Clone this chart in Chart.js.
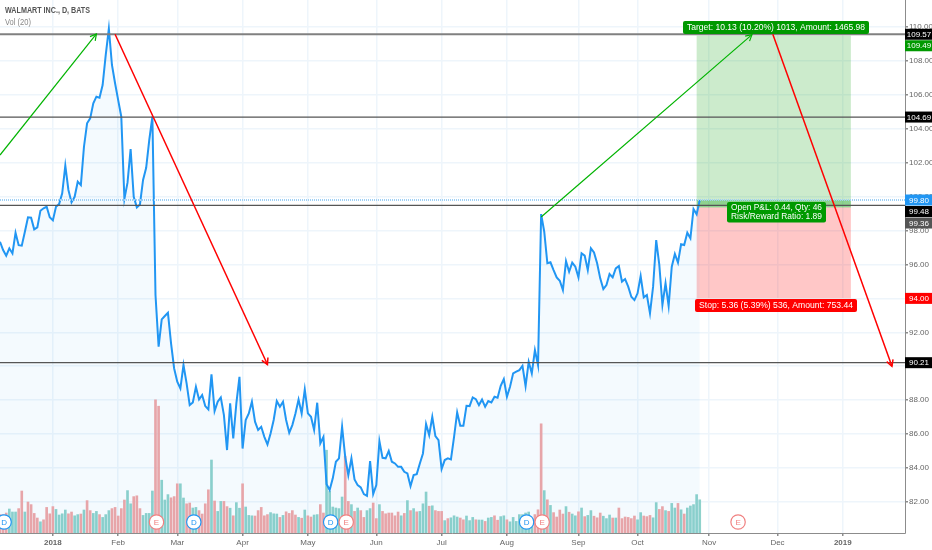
<!DOCTYPE html>
<html>
<head>
<meta charset="utf-8">
<title>WALMART INC., D, BATS</title>
<script src="https://cdn.jsdelivr.net/npm/chart.js@4/dist/chart.umd.js"></script>
<style>
    html, body { margin: 0; padding: 0; background: #fff; }
    canvas { display: block; }
</style>
</head>
<body>
<canvas id="chart" width="932" height="550"></canvas>
<script>
// closing prices, one per trading day
const closes = [
    97.34, 96.85, 96.52, 96.95, 96.65, 97.87, 97.14, 97.11, 97.93, 98.78,
    98.76, 98.07, 98.19, 99.17, 99.31, 99.40, 98.78, 98.60, 99.40, 99.56,
    100.19, 101.82, 100.39, 99.66, 99.99, 100.88, 100.68, 102.94, 104.32, 104.61,
    105.50, 105.89, 105.83, 106.58, 108.35, 109.90, 107.76, 106.68, 105.69, 104.71,
    99.86, 100.82, 102.80, 99.99, 99.37, 99.54, 100.98, 101.70, 103.34, 104.71,
    94.20, 91.15, 92.76, 92.96, 93.15, 91.35, 89.87, 89.09, 88.69, 90.07,
    88.99, 87.71, 87.87, 88.79, 88.04, 88.30, 87.65, 87.45, 89.52, 87.36,
    87.91, 88.16, 87.12, 85.06, 87.81, 85.74, 87.81, 89.38, 85.15, 86.83,
    87.22, 87.91, 86.73, 86.24, 86.43, 85.84, 85.39, 86.04, 86.83, 87.95,
    87.61, 87.91, 86.83, 86.08, 86.53, 87.22, 88.04, 87.22, 88.63, 87.22,
    87.02, 86.24, 87.85, 85.45, 85.84, 83.05, 82.70, 83.39, 84.37, 84.57,
    86.43, 84.66, 83.58, 84.57, 83.33, 82.99, 82.86, 82.46, 82.36, 84.41,
    82.46, 82.99, 85.59, 84.60, 84.57, 85.00, 84.37, 84.27, 84.07, 84.07,
    83.78, 83.68, 82.93, 83.58, 83.64, 84.27, 84.86, 86.59, 85.94, 87.02,
    85.88, 85.65, 83.94, 84.47, 84.57, 84.51, 85.84, 87.28, 86.49, 86.49,
    87.67, 87.65, 88.16, 88.06, 87.71, 88.04, 87.61, 87.95, 87.87, 88.20,
    88.14, 88.85, 89.24, 88.20, 88.79, 89.58, 89.68, 89.77, 90.03, 88.83,
    90.26, 89.58, 90.95, 90.07, 98.97, 97.93, 96.07, 96.13, 95.67, 95.24,
    95.04, 94.49, 96.20, 95.57, 96.11, 95.87, 95.24, 96.66, 96.52, 95.67,
    96.95, 96.71, 96.07, 95.18, 94.55, 94.79, 95.44, 95.24, 95.77, 95.91,
    94.99, 95.14, 94.69, 94.10, 93.90, 94.30, 95.32, 94.06, 94.20, 93.12,
    94.69, 97.44, 95.97, 93.61, 94.89, 93.55, 95.87, 96.62, 96.11, 97.19,
    97.15, 97.87, 97.54, 99.27, 98.96, 99.80
]

// daily volume in millions
const volumes = [
    4.6, 4.6, 5.0, 6.0, 5.25, 5.25, 6.1, 10.5, 5.25, 7.75,
    7.1, 4.9, 3.75, 2.8, 3.3, 6.4, 4.8, 6.6, 5.9, 4.5,
    4.8, 5.75, 4.8, 5.25, 4.3, 4.6, 4.75, 5.75, 8.1, 5.6,
    4.9, 5.4, 4.6, 3.9, 4.6, 5.6, 6.1, 6.4, 4.25, 6.1,
    8.25, 10.6, 7.3, 9.1, 9.3, 6.1, 4.4, 4.9, 4.9, 10.5,
    33.3, 31.7, 13.2, 8.25, 9.6, 8.8, 9.1, 12.3, 12.3, 8.75,
    7.3, 7.5, 6.25, 6.4, 5.6, 4.75, 7.3, 10.8, 18.25, 8.0,
    5.4, 7.9, 7.9, 6.6, 6.2, 4.3, 7.6, 6.2, 12.3, 6.5,
    4.4, 4.3, 4.25, 5.6, 6.4, 4.3, 4.6, 5.1, 4.8, 4.75,
    3.9, 4.4, 5.3, 4.9, 5.6, 4.5, 3.9, 3.7, 5.75, 4.3,
    4.0, 4.5, 4.6, 7.1, 5.0, 20.7, 10.4, 6.5, 6.25, 6.1,
    9.0, 19.2, 7.9, 7.1, 5.4, 6.25, 5.6, 3.9, 5.6, 6.1,
    7.5, 3.6, 7.1, 5.4, 4.8, 5.0, 5.0, 4.3, 5.25, 4.3,
    4.9, 8.1, 5.6, 6.1, 5.3, 5.4, 7.3, 10.25, 6.7, 6.8,
    5.6, 5.4, 5.4, 3.1, 3.6, 3.8, 4.3, 4.0, 3.75, 3.3,
    4.25, 3.1, 3.9, 3.3, 3.25, 3.25, 2.9, 3.75, 3.9, 4.3,
    3.2, 4.1, 4.3, 3.3, 2.8, 3.9, 2.9, 4.6, 4.6, 5.0,
    5.25, 3.3, 4.6, 5.8, 27.3, 10.6, 8.3, 6.9, 5.1, 4.0,
    5.75, 4.75, 6.6, 5.2, 4.75, 4.3, 5.3, 6.25, 4.1, 4.4,
    5.6, 4.2, 3.8, 5.0, 4.2, 3.6, 4.5, 3.75, 3.75, 6.25,
    3.6, 4.0, 3.9, 3.6, 4.25, 3.3, 5.1, 4.25, 4.1, 4.4,
    3.8, 7.6, 5.9, 6.6, 5.6, 5.4, 7.4, 6.25, 7.4, 5.8,
    4.75, 6.25, 6.75, 7.1, 9.6, 8.3
]

// g = up day, r = down day
const volumeDirs = (
    'rrrgggrrgr' + 'rrrgrrrrgg' + 'ggrrggrgrr' + 'ggrgggrrrr' + 'rggrrrgggg' +
    'rrgggrrrgg' + 'rrggrrrrgr' + 'ggrrgrggrg' + 'ggrrrrrggg' + 'rgrrrrgrgr' +
    'rggrrggggg' + 'grrgrgrrgg' + 'rrgrrrrrrg' + 'rgrgrgggrg' + 'rrrgrgggrr' +
    'gggrggrggr' + 'rggrgggggg' + 'ggrrrgrgrr' + 'rrgrggrgrg' + 'grrrgggrgr' +
    'rrrrrggrrr' + 'ggrrgrggrg' + 'rggggg'
).split('')

const monthTicks = [17, 38, 57, 78, 99, 121, 142, 163, 186, 205, 228, 250, 271]
const monthLabels = ['2018', 'Feb', 'Mar', 'Apr', 'May', 'Jun', 'Jul', 'Aug', 'Sep', 'Oct', 'Nov', 'Dec', '2019']
const priceTicks = [82, 84, 86, 88, 90, 92, 94, 96, 98, 100, 102, 104, 106, 108, 110]

const levels = [109.57, 104.69, 99.48, 90.21]
const lastPrice = 99.80
const greenArrows = [
    [[0, 102.45], [31, 109.59]],
    [[174, 98.80], [241.8, 109.55]]
]
const redArrows = [
    [[37, 109.57], [86, 90.10]],
    [[248.5, 109.57], [286.8, 90.00]]
]

// long position drawing
const entryPrice = 99.36
const targetPrice = 109.49
const stopPrice = 94.00
const positionFrom = 224
const positionTo = 273.6

const eventIndex = [1, 50, 62, 106, 111, 169, 174, 237]
const eventLetters = ['D', 'E', 'D', 'D', 'E', 'D', 'E', 'E']

const priceTags = [
    ['109.57', 109.57, '#000000'],
    ['109.49', 109.49, '#009900'],
    ['104.69', 104.69, '#000000'],
    ['99.80', 99.80, '#2196f3'],
    ['99.48', 99.48, '#000000'],
    ['99.36', 99.36, '#555555'],
    ['94.00', 94.00, '#ff0000'],
    ['90.21', 90.21, '#000000']
]

const FONT = '"Liberation Sans", Arial, sans-serif'
const BLUE = '#2196f3'
const UP = '#8fd2cb'
const DOWN = '#f2a6a6'
const GRID = '#eef5fb'
const AXIS = '#8c8c8c'

const series = values => values.map((y, x) => ({ x, y }))

const segment = (data, color, order, extra = {}) => ({
    type: 'line',
    data: data.map(([x, y]) => ({ x, y })),
    borderColor: color,
    borderWidth: 1.5,
    pointRadius: 0,
    fill: false,
    order,
    yAxisID: 'y',
    ...extra
})

const roundBox = (ctx, x, y, w, h, color) => {
    ctx.fillStyle = color
    ctx.beginPath()
    ctx.roundRect(x, y, w, h, 2)
    ctx.fill()
}

// target / stop zones go under the lines
const positionZones = {
    id: 'positionZones',
    beforeDatasetsDraw(chart) {
        const { ctx, scales: { x, y } } = chart
        const left = x.getPixelForValue(positionFrom)
        const width = x.getPixelForValue(positionTo) - left
        const zone = (from, to, color) => {
            ctx.fillStyle = color
            ctx.fillRect(left, y.getPixelForValue(from), width, y.getPixelForValue(to) - y.getPixelForValue(from))
        }
        ctx.save()
        zone(targetPrice, entryPrice, 'rgba(0, 153, 0, 0.2)')
        zone(lastPrice, entryPrice, 'rgba(0, 153, 0, 0.3)')
        zone(entryPrice, stopPrice, 'rgba(255, 0, 0, 0.22)')
        ctx.restore()
    }
}

const overlays = {
    id: 'overlays',
    afterDraw(chart) {
        const { ctx, scales: { x, y } } = chart
        ctx.save()

        // arrow heads
        const heads = [[greenArrows, '#00b300', 1.2], [redArrows, '#ff0000', 1.5]]
        for (const [arrows, color, width] of heads) {
            for (const [from, to] of arrows) {
                const x0 = x.getPixelForValue(from[0]), y0 = y.getPixelForValue(from[1])
                const x1 = x.getPixelForValue(to[0]), y1 = y.getPixelForValue(to[1])
                const angle = Math.atan2(y1 - y0, x1 - x0)
                ctx.strokeStyle = color
                ctx.lineWidth = width
                ctx.beginPath()
                ctx.moveTo(x1 - 7 * Math.cos(angle - 0.5), y1 - 7 * Math.sin(angle - 0.5))
                ctx.lineTo(x1, y1)
                ctx.lineTo(x1 - 7 * Math.cos(angle + 0.5), y1 - 7 * Math.sin(angle + 0.5))
                ctx.stroke()
            }
        }

        // dividend and earnings circles
        const axisY = chart.chartArea.bottom
        ctx.textAlign = 'center'
        ctx.textBaseline = 'middle'
        ctx.font = '8px ' + FONT
        eventIndex.forEach((index, i) => {
            const color = eventLetters[i] === 'D' ? BLUE : '#f08080'
            const cx = x.getPixelForValue(index) + 1
            ctx.fillStyle = '#fff'
            ctx.strokeStyle = color
            ctx.lineWidth = 1.2
            ctx.beginPath()
            ctx.arc(cx, axisY - 11, 7.2, 0, Math.PI * 2)
            ctx.fill()
            ctx.stroke()
            ctx.fillStyle = color
            ctx.fillText(eventLetters[i], cx, axisY - 10.5)
        })

        // position labels
        ctx.font = '9px ' + FONT
        roundBox(ctx, 683, 21, 186, 13, '#009900')
        roundBox(ctx, 727, 202, 99, 20.5, '#009900')
        roundBox(ctx, 695, 299, 162, 13, '#ff0000')
        ctx.fillStyle = '#fff'
        ctx.fillText('Target: 10.13 (10.20%) 1013, Amount: 1465.98', 776, 27.7, 178)
        ctx.fillText('Open P&L: 0.44, Qty: 46', 776.5, 208, 91)
        ctx.fillText('Risk/Reward Ratio: 1.89', 776.5, 216.5, 91)
        ctx.fillText('Stop: 5.36 (5.39%) 536, Amount: 753.44', 776, 305.7, 154)

        // price tags on the axis, pushed down when they collide
        ctx.font = '8px ' + FONT
        let lastY = -100
        for (const [text, value, color] of priceTags) {
            const tagY = Math.max(y.getPixelForValue(value), lastY + 11.5)
            lastY = tagY
            ctx.fillStyle = color
            ctx.fillRect(905, tagY - 5.5, 27, 11)
            ctx.fillStyle = '#fff'
            ctx.fillText(text, 919, tagY + 0.5)
        }

        // legend text
        ctx.textAlign = 'left'
        ctx.fillStyle = '#555'
        ctx.font = 'bold 9px ' + FONT
        ctx.fillText('WALMART INC., D, BATS', 5, 11, 85)
        ctx.fillStyle = '#888'
        ctx.font = '9px ' + FONT
        ctx.fillText('Vol (20)', 5, 23, 26)
        ctx.restore()
    }
}

const datasets = [
    {
        type: 'line',
        data: series(closes),
        borderColor: BLUE,
        borderWidth: 2,
        backgroundColor: 'rgba(33, 150, 243, 0.05)',
        fill: 'start',
        pointRadius: 0,
        tension: 0,
        order: 5,
        yAxisID: 'y'
    },
    {
        type: 'bar',
        data: series(volumes),
        backgroundColor: volumeDirs.map(d => (d === 'g' ? UP : DOWN)),
        barThickness: 2,
        order: 6,
        yAxisID: 'volume'
    },
    segment([[0, lastPrice], [291, lastPrice]], '#9fd0f5', 4, { borderDash: [1, 1], borderWidth: 2 })
]
levels.forEach((level, i) => {
    const top = i === 0
    datasets.push(segment([[0, level], [291, level]], top ? '#808080' : '#555555', 3, { borderWidth: top ? 2 : 1.3 }))
})
for (const arrow of greenArrows) {
    datasets.push(segment(arrow, '#00b300', 2, { borderWidth: 1.2 }))
}
for (const arrow of redArrows) {
    datasets.push(segment(arrow, '#ff0000', 1))
}

new Chart(document.getElementById('chart').getContext('2d'), {
    data: { datasets },
    plugins: [positionZones, overlays],
    options: {
        responsive: false,
        animation: false,
        devicePixelRatio: 1,
        layout: { padding: 0 },
        plugins: { legend: { display: false }, tooltip: { enabled: false } },
        scales: {
            x: {
                type: 'linear',
                offset: false,
                min: 0,
                max: 291,
                grid: { offset: false, color: GRID, lineWidth: 1.5, tickLength: 3, tickColor: AXIS },
                border: { color: AXIS, width: 1 },
                afterBuildTicks: scale => { scale.ticks = monthTicks.map(value => ({ value })) },
                afterFit: scale => {
                    scale.height = 17
                    scale.paddingLeft = 0
                    scale.paddingRight = 0
                },
                ticks: {
                    autoSkip: false,
                    maxRotation: 0,
                    padding: 2,
                    color: '#666',
                    font: ctx => ({
                        family: FONT,
                        size: 8,
                        weight: monthLabels[monthTicks.indexOf(ctx.tick?.value)]?.startsWith('20') ? 'bold' : 'normal'
                    }),
                    callback: value => monthLabels[monthTicks.indexOf(value)]
                }
            },
            y: {
                position: 'right',
                min: 80.17,
                max: 111.59,
                grid: { color: GRID, lineWidth: 1.5, tickLength: 3, tickColor: AXIS },
                border: { color: AXIS, width: 1 },
                afterBuildTicks: scale => { scale.ticks = priceTicks.map(value => ({ value })) },
                afterFit: scale => {
                    scale.width = 27
                    scale.paddingTop = 0
                    scale.paddingBottom = 0
                },
                ticks: {
                    padding: 1,
                    color: '#666',
                    font: { family: FONT, size: 8 },
                    callback: value => value.toFixed(2)
                }
            },
            volume: {
                display: false,
                min: 0,
                max: 133.25
            }
        }
    }
})
</script>
</body>
</html>
